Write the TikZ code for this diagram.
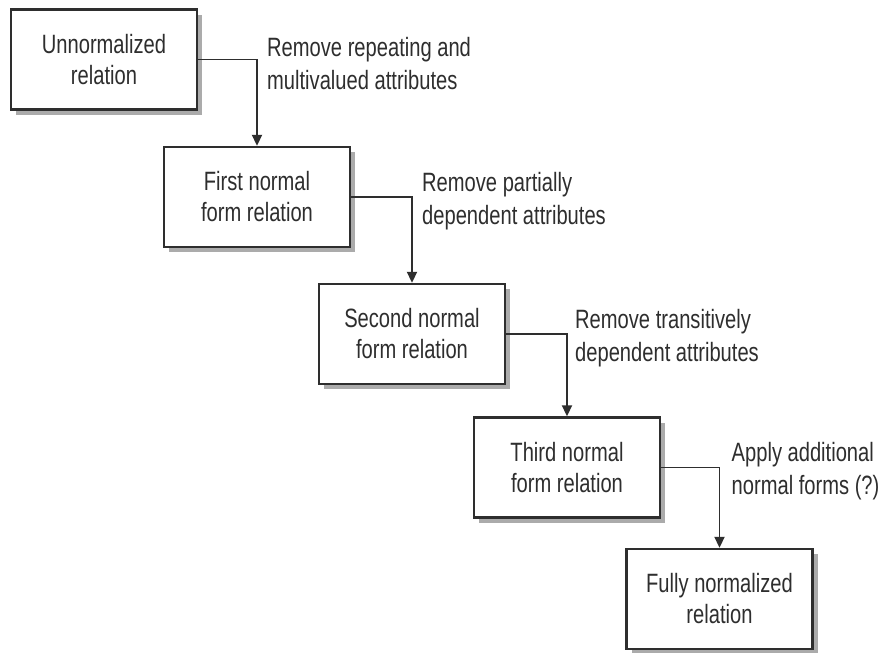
\documentclass[tikz,border=0pt]{standalone}
\usepackage{fontspec}
\setmainfont[FakeStretch=0.76]{Liberation Sans}
\usetikzlibrary{arrows.meta,shadows,calc}
\definecolor{inkgray}{HTML}{2E2E2E}
\definecolor{shadegray}{HTML}{ABABAB}
\tikzset{
  stage/.style={draw=inkgray, line width=2.4pt, fill=white,
    minimum width=186pt, minimum height=100pt, align=center,
    text=inkgray, font=\fontsize{26.5}{31}\selectfont,
    drop shadow={shadow xshift=5pt, shadow yshift=-5pt, fill=shadegray, opacity=1}},
  steplabel/.style={anchor=west, align=left, inner sep=0pt,
    text=inkgray, font=\fontsize{26.5}{33}\selectfont},
  flow/.style={draw=inkgray, line width=1.9pt,
    -{Triangle[length=11pt,width=10pt]}}
}
\begin{document}
\begin{tikzpicture}[x=1pt,y=-1pt]
\useasboundingbox[fill=white] (0,0) rectangle (884,653);

% normalization stages
\node[stage] (b1) at (104,59.5) {Unnormalized\\relation};
\node[stage] (b2) at (257,197) {First normal\\form relation};
\node[stage] (b3) at (412,334) {Second normal\\form relation};
\node[stage] (b4) at (567,467.5) {Third normal\\form relation};
\node[stage] (b5) at (719.5,599) {Fully normalized\\relation};

% elbow corners of the connectors
\coordinate (c1) at (b1.east -| b2.north);
\coordinate (c2) at (b2.east -| b3.north);
\coordinate (c3) at (b3.east -| b4.north);
\coordinate (c4) at (b4.east -| b5.north);

% connectors
\draw[flow] (b1.east) -- (c1) -- (b2.north);
\draw[flow] (b2.east) -- (c2) -- (b3.north);
\draw[flow] (b3.east) -- (c3) -- (b4.north);
\draw[flow] (b4.east) -- (c4) -- (b5.north);

% step descriptions
\node[steplabel] (l1) at ($(c1)+(10,4)$) {Remove repeating and\\multivalued attributes};
\node[steplabel] (l2) at ($(c2)+(10,4)$) {Remove partially\\dependent attributes};
\node[steplabel] (l3) at ($(c3)+(8,4)$) {Remove transitively\\dependent attributes};
\node[steplabel] (l4) at ($(c4)+(12,4)$) {Apply additional\\normal forms (?)};
\end{tikzpicture}
\end{document}
